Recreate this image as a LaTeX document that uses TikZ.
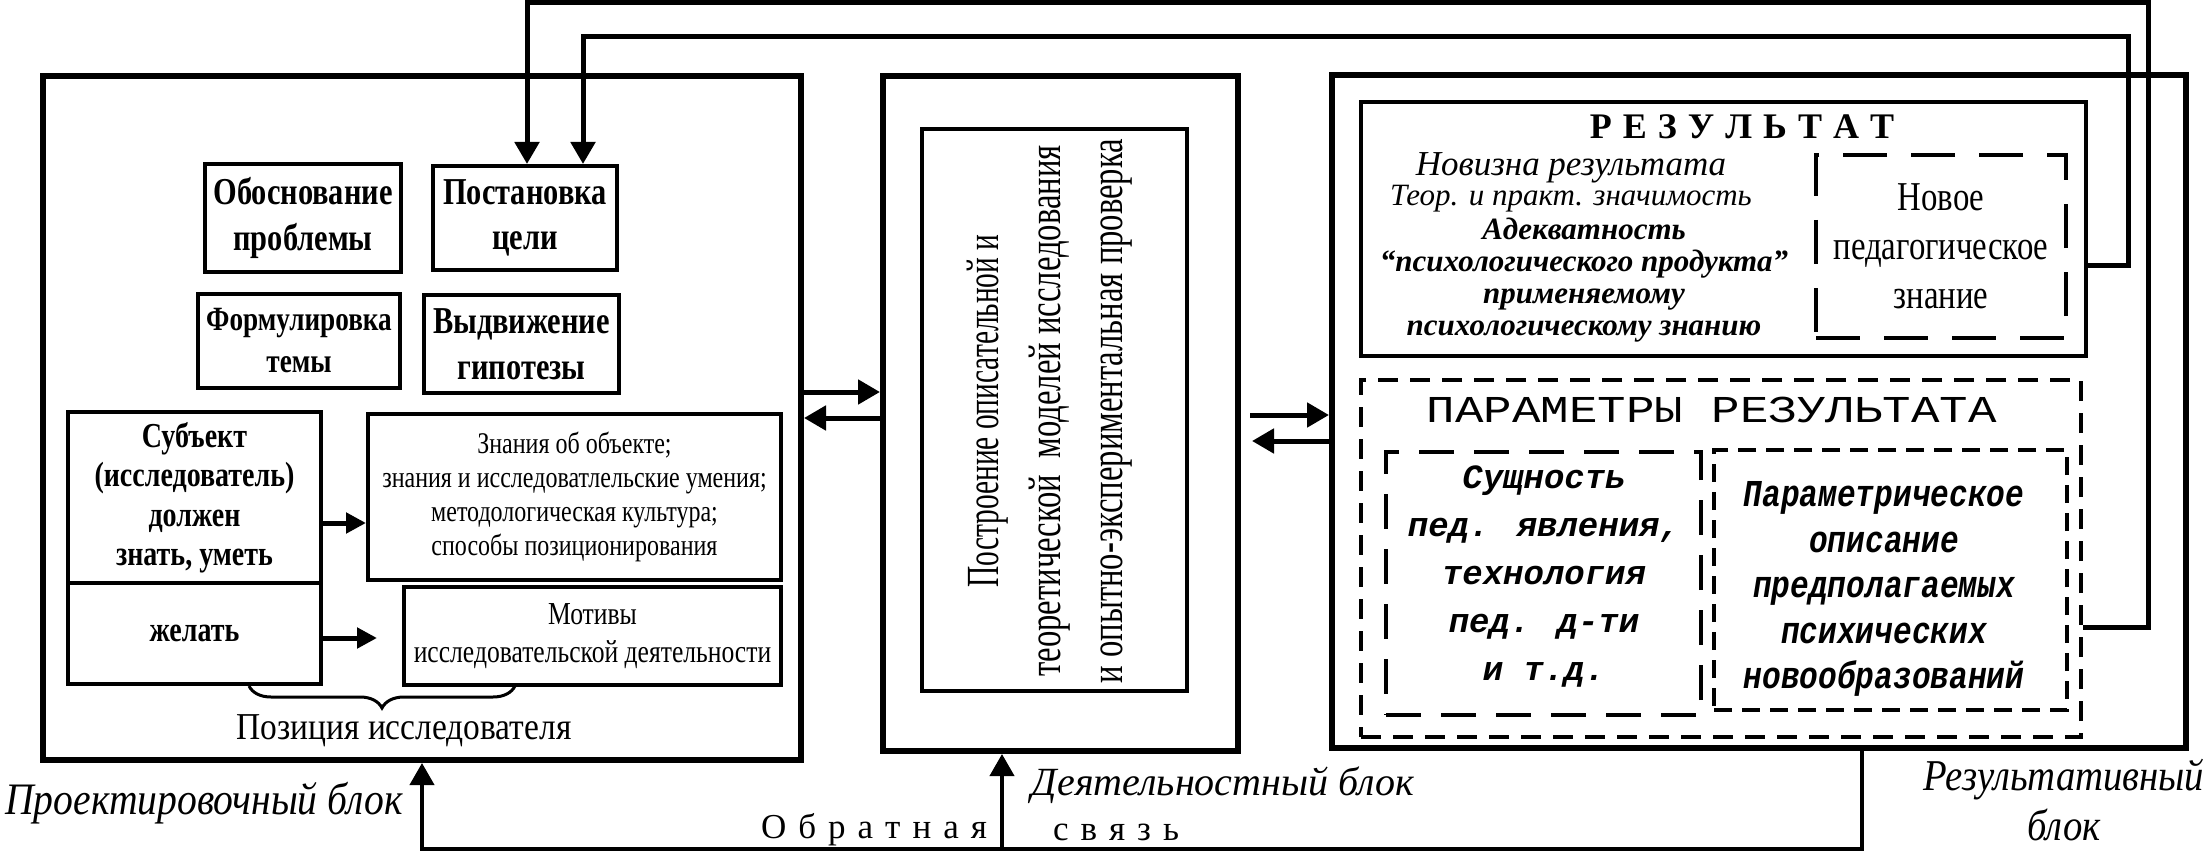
\documentclass[tikz,border=0pt]{standalone}
\usepackage{fontspec}
\setmainfont{Liberation Serif}
\newfontfamily\cnd[FakeStretch=0.8]{Liberation Serif}
\newfontfamily\cndb[FakeStretch=0.88]{Liberation Serif}
\newfontfamily\cndv[FakeStretch=0.71]{Liberation Serif}
\newfontfamily\cndvv[FakeStretch=0.64]{Liberation Serif}
\newfontfamily\mon{Liberation Mono}
\newfontfamily\monw[FakeStretch=1.25]{Liberation Mono}
\newfontfamily\monc[FakeStretch=0.82]{Liberation Mono}
\usetikzlibrary{arrows.meta,decorations.pathreplacing}
\newcommand\fsz[2]{\fontsize{#1}{#2}\selectfont}
\begin{document}
\begin{tikzpicture}[x=1pt,y=-1pt,
  blk/.style={draw,line width=6pt,inner sep=0pt},
  bx/.style={draw,line width=4pt,inner sep=0pt,align=center},
  txt/.style={inner sep=0pt,align=center},
  conn/.style={line width=5pt},
  thin/.style={line width=4pt},
  tip/.style={-{Triangle[length=22pt,width=24pt]}},
  stip/.style={-{Triangle[length=20pt,width=20pt]}},
]
\useasboundingbox (0,0) rectangle (2211,853);

% ---------- left block
\node[blk,minimum width=758pt,minimum height=684pt] (L) at (422,418) {};
\node[bx,minimum width=196pt,minimum height=108pt,font=\cnd\bfseries\fsz{38}{46}] (obos) at (303,218) {Обоснование\\проблемы};
\node[bx,minimum width=184pt,minimum height=104pt,font=\cnd\bfseries\fsz{38}{45}] (post) at (525,218) {Постановка\\цели};
\node[bx,minimum width=202pt,minimum height=94pt,font=\cnd\bfseries\fsz{34}{42}] (form) at (299,341) {Формулировка\\темы};
\node[bx,minimum width=195pt,minimum height=98pt,font=\cnd\bfseries\fsz{38}{46}] (vyd) at (521.5,344) {Выдвижение\\гипотезы};
\node[bx,minimum width=253pt,minimum height=171pt,font=\cnd\bfseries\fsz{35}{39.5}] (subj) at (194.5,497.5) {Субъект\\(исследователь)\\должен\\знать, уметь};
\node[bx,minimum width=253pt,minimum height=101pt,font=\cnd\bfseries\fsz{35}{40}] (zhel) at (194.5,633.5) {желать};
\node[bx,minimum width=413pt,minimum height=166pt,font=\cnd\fsz{30}{34}] (znan) at (574.5,497) {Знания об объекте;\\знания и исследоватлельские умения;\\методологическая культура;\\способы позиционирования};
\node[bx,minimum width=377pt,minimum height=98pt,font=\cnd\fsz{32}{38}] (motiv) at (592.5,636) {Мотивы\\исследовательской деятельности};
\draw[conn,stip] (subj.east |- 0,523) -- (znan.west |- 0,523);
\coordinate (zt) at (377,638);
\draw[conn,stip] (zhel.east |- zt) -- (zt);
\draw[line width=3pt,decorate,decoration={brace,mirror,amplitude=22pt}] (249,686) -- (515,686);
\node[txt,font=\cndb\fsz{38}{40}] (poz) at (404,731) {Позиция исследователя};

% ---------- middle block
\node[blk,minimum width=355pt,minimum height=675pt] (M) at (1060.5,413.5) {};
\node[bx,minimum width=265pt,minimum height=562pt] (Mi) at (1054.5,410) {};
\node[txt,rotate=90,font=\cndv\fsz{46}{62}] (mtext) at (1050,411) {{\cndvv Построение описательной и}\\теоретической\ \ моделей исследования\\и опытно-экспериментальная проверка};

% ---------- right block
\node[blk,minimum width=854pt,minimum height=673pt] (R) at (1759,411.5) {};
\node[bx,minimum width=725pt,minimum height=254pt] (res) at (1723.5,229) {};
\node[txt,font=\bfseries\fsz{36}{40}] (rest) at (1742,127) {Р\hspace{11pt}Е\hspace{11pt}З\hspace{11pt}У\hspace{11pt}Л\hspace{11pt}Ь\hspace{11pt}Т\hspace{11pt}А\hspace{11pt}Т};
\node[txt,font=\itshape\fsz{35}{30}] (nov) at (1571,182) {Новизна результата\\{\fsz{31}{30}Теор. и практ. значимость}};
\node[txt,font=\bfseries\itshape\fsz{31}{32}] (adek) at (1584,280) {Адекватность\\“психологического продукта”\\применяемому\\психологическому знанию};
\node[bx,dash pattern=on 44pt off 24pt,minimum width=250pt,minimum height=183pt,font=\cnd\fsz{41}{49}] (new) at (1941,246.5) {Новое\\педагогическое\\знание};

\node[bx,dash pattern=on 20pt off 12pt,minimum width=720pt,minimum height=357pt] (par) at (1721,558.5) {};
\node[txt,font=\monw\fsz{38}{40}] (part) at (1712,410) {ПАРАМЕТРЫ РЕЗУЛЬТАТА};
\node[bx,dash pattern=on 35pt off 20pt,minimum width=315pt,minimum height=263pt] (sush) at (1543.5,583.5) {};
\node[txt,font=\mon\bfseries\itshape\fsz{34}{48}] (susht) at (1544,577) {Сущность\\пед. явления,\\технология\\пед. д-ти\\и т.д.};
\node[bx,dash pattern=on 18pt off 10pt,minimum width=353pt,minimum height=260pt] (pm) at (1890.5,580) {};
\node[txt,font=\monc\bfseries\itshape\fsz{38}{45.5}] (pmt) at (1884,589) {Параметрическое\\описание\\предполагаемых\\психических\\новообразований};

% ---------- arrows between blocks
\coordinate (yA) at (0,392);
\coordinate (yB) at (0,418);
\draw[conn,tip] (L.east |- yA) -- (M.west |- yA);
\draw[conn,tip] (M.west |- yB) -- (L.east |- yB);
\coordinate (mr) at (1250,415);
\coordinate (ml) at (1252,441);
\draw[conn,tip] (mr) -- (R.west |- mr);
\draw[conn,tip] (R.west |- ml) -- (ml);

% ---------- top feedback lines
\coordinate (yP) at (0,627);
\coordinate (yQ) at (0,265);
\coordinate (t1) at (2148,3);
\coordinate (t2) at (2128,37);
\coordinate (pa) at (527,0);
\coordinate (pb) at (583,0);
\draw[conn,tip] (par.east |- yP) -| (t1) -| (post.north -| pa);
\draw[conn,tip] (res.east |- yQ) -| (t2) -| (post.north -| pb);

% ---------- bottom feedback
\coordinate (fb) at (1862,849);
\coordinate (fbm) at (1002,849);
\draw[thin,tip] (R.south -| fb) |- (L.south |- fb) -- (L.south);
\draw[thin,tip] (fbm) -- (fbm |- M.south);

% ---------- labels
\node[txt,font=\cndb\itshape\fsz{45}{50}] (lab1) at (204,803) {Проектировочный блок};
\node[txt,font=\itshape\fsz{40}{46}] (lab2) at (1223,785) {Деятельностный блок};
\node[txt,font=\cndb\itshape\fsz{44}{50}] (lab3) at (2064,800) {Результативный\\блок};
\node[txt,font=\fsz{35}{40}] (obr) at (874,830) {О\hspace{12pt}б\hspace{12pt}р\hspace{12pt}а\hspace{12pt}т\hspace{12pt}н\hspace{12pt}а\hspace{12pt}я};
\node[txt,font=\fsz{35}{40}] (sv) at (1116,832) {с\hspace{12pt}в\hspace{12pt}я\hspace{12pt}з\hspace{12pt}ь};
\end{tikzpicture}
\end{document}
